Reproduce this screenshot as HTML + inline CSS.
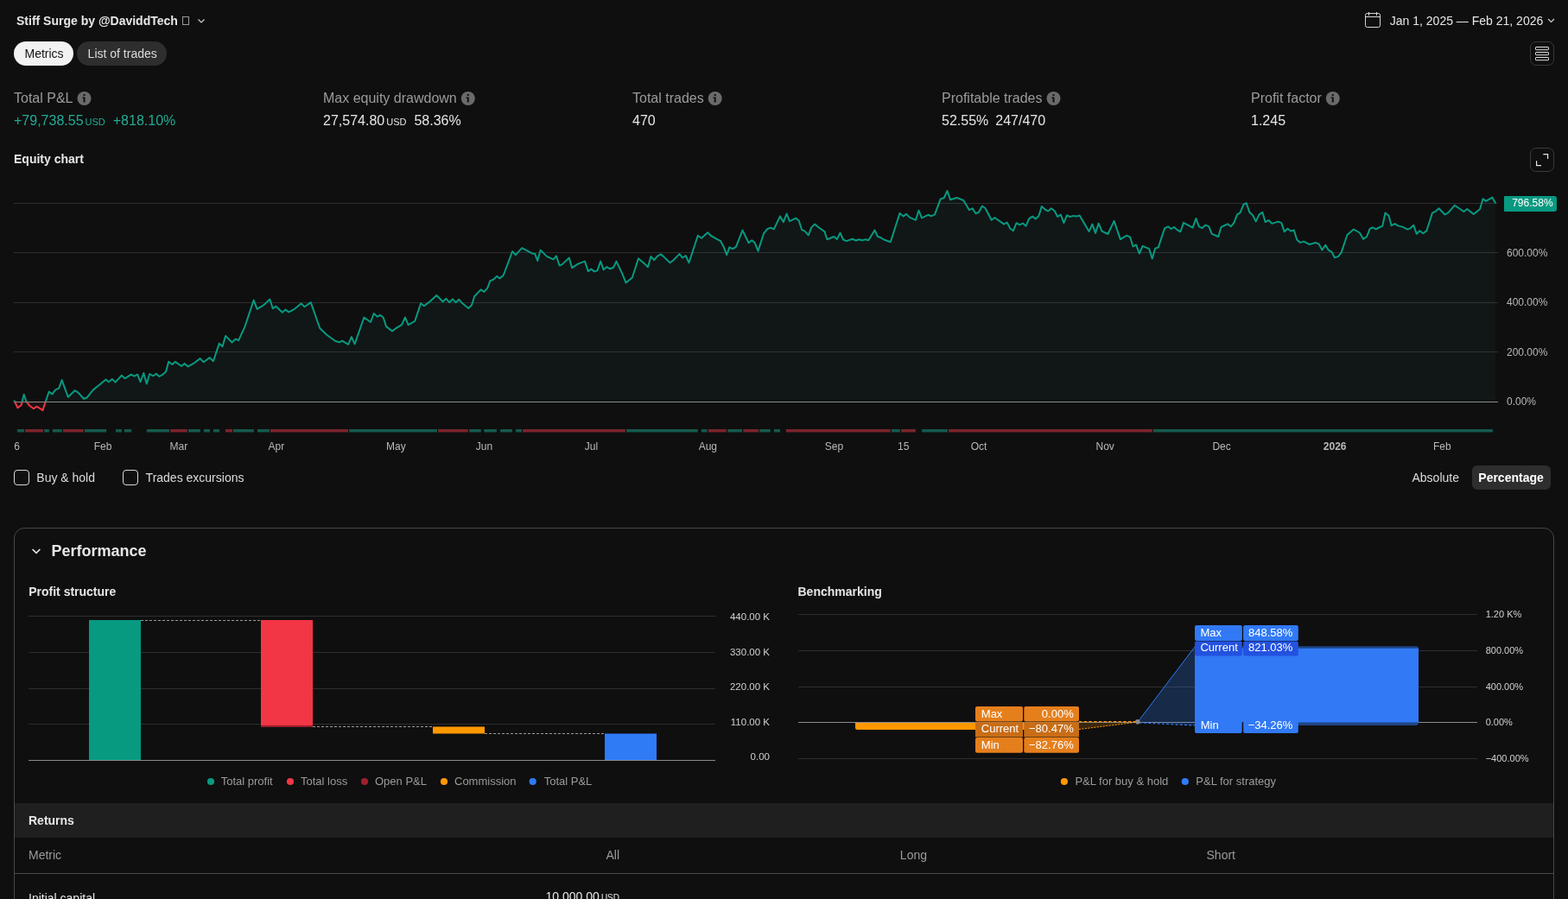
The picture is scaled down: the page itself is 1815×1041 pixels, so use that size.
<!DOCTYPE html>
<html><head><meta charset="utf-8"><title>Strategy report</title>
<style>
html,body{margin:0;padding:0;background:#0f0f0f;width:1815px;height:1041px;overflow:hidden;}
body{position:relative;font-family:'Liberation Sans', Arial, sans-serif;}
.t{position:absolute;white-space:nowrap;}
svg{position:absolute;left:0;top:0;}
</style></head><body>
<svg width="1815" height="1041" viewBox="0 0 1815 1041">
<path d="M229.5 22.5 L233 26 L236.5 22.5" fill="none" stroke="#cfcfcf" stroke-width="1.2"/>
<rect x="1580.5" y="15.5" width="17" height="16" rx="2" fill="none" stroke="#d6d6d6" stroke-width="1"/>
<line x1="1580.5" y1="19.5" x2="1597.5" y2="19.5" stroke="#d6d6d6" stroke-width="1"/>
<line x1="1584.5" y1="14" x2="1584.5" y2="18" stroke="#d6d6d6" stroke-width="1"/>
<line x1="1593.5" y1="14" x2="1593.5" y2="18" stroke="#d6d6d6" stroke-width="1"/>
<path d="M1792 22 L1795.5 25.5 L1799 22" fill="none" stroke="#cfcfcf" stroke-width="1.2"/>
<rect x="1777.5" y="54.5" width="15" height="3.2" rx="0.6" fill="none" stroke="#e0e0e0" stroke-width="1"/>
<rect x="1777.5" y="60.5" width="15" height="3.2" rx="0.6" fill="none" stroke="#e0e0e0" stroke-width="1"/>
<rect x="1777.5" y="66.5" width="15" height="3.2" rx="0.6" fill="none" stroke="#e0e0e0" stroke-width="1"/>
<circle cx="97.5" cy="114" r="8" fill="#6a6a6a"/>
<rect x="96.5" y="112.5" width="2" height="6" fill="#111"/>
<rect x="95.3" y="112.5" width="2" height="1.3" fill="#111"/>
<rect x="96.5" y="109" width="2" height="2" fill="#111"/>
<circle cx="541.8" cy="114" r="8" fill="#6a6a6a"/>
<rect x="540.8" y="112.5" width="2" height="6" fill="#111"/>
<rect x="539.5999999999999" y="112.5" width="2" height="1.3" fill="#111"/>
<rect x="540.8" y="109" width="2" height="2" fill="#111"/>
<circle cx="827.7" cy="114" r="8" fill="#6a6a6a"/>
<rect x="826.7" y="112.5" width="2" height="6" fill="#111"/>
<rect x="825.5" y="112.5" width="2" height="1.3" fill="#111"/>
<rect x="826.7" y="109" width="2" height="2" fill="#111"/>
<circle cx="1219.5" cy="114" r="8" fill="#6a6a6a"/>
<rect x="1218.5" y="112.5" width="2" height="6" fill="#111"/>
<rect x="1217.3" y="112.5" width="2" height="1.3" fill="#111"/>
<rect x="1218.5" y="109" width="2" height="2" fill="#111"/>
<circle cx="1542.8" cy="114" r="8" fill="#6a6a6a"/>
<rect x="1541.8" y="112.5" width="2" height="6" fill="#111"/>
<rect x="1540.6" y="112.5" width="2" height="1.3" fill="#111"/>
<rect x="1541.8" y="109" width="2" height="2" fill="#111"/>
<path d="M1786.3 178.6 H1791.6 V184" fill="none" stroke="#e6e6e6" stroke-width="1.2"/>
<path d="M1778.6 186.3 V191.6 H1784" fill="none" stroke="#e6e6e6" stroke-width="1.2"/>
<line x1="16" y1="235.5" x2="1734" y2="235.5" stroke="#2e2e2e" stroke-width="1"/>
<line x1="16" y1="292.5" x2="1734" y2="292.5" stroke="#2e2e2e" stroke-width="1"/>
<line x1="16" y1="350.5" x2="1734" y2="350.5" stroke="#2e2e2e" stroke-width="1"/>
<line x1="16" y1="407.5" x2="1734" y2="407.5" stroke="#2e2e2e" stroke-width="1"/>
<defs><clipPath id="above"><rect x="0" y="0" width="1815" height="465.5"/></clipPath><clipPath id="below"><rect x="0" y="465.5" width="1815" height="100"/></clipPath></defs>
<path d="M16.3 463.6 L20.5 472.2 L24.5 469.3 L27.7 456.8 L30.3 464.5 L34.1 469.8 L38.9 473.2 L42.3 470.8 L44.7 472.0 L49.5 475.1 L52.6 465.5 L56.7 453.5 L60.5 456.4 L63.9 451.6 L66.3 450.4 L68.2 449.6 L71.6 440.0 L74.9 449.2 L78.8 459.7 L86.5 452.2 L90.3 454.4 L97.0 461.7 L100.9 460.2 L107.6 451.6 L114.3 446.3 L122.5 439.4 L125.8 442.2 L129.8 438.9 L133.5 442.6 L140.8 434.8 L144.7 438.2 L151.9 433.7 L155.3 435.7 L159.2 433.7 L162.5 442.2 L166.3 432.0 L169.8 444.4 L173.2 433.0 L177.3 435.3 L180.8 432.7 L184.5 436.0 L188.4 433.7 L192.1 430.2 L195.2 418.8 L199.4 422.0 L202.8 418.9 L210.1 424.0 L213.6 420.9 L217.6 424.4 L224.9 420.3 L231.7 415.1 L235.6 419.2 L242.8 414.1 L246.9 418.2 L253.8 397.6 L257.5 401.3 L261.1 388.9 L268.5 396.5 L272.7 392.6 L276.1 394.1 L283.4 378.3 L293.7 347.6 L297.6 357.9 L305.4 353.1 L312.3 346.5 L315.8 357.2 L319.5 354.7 L326.8 361.8 L330.5 358.6 L334.4 361.4 L341.3 357.6 L348.6 351.4 L352.5 355.2 L359.8 350.1 L370.2 380.0 L378.3 387.8 L387.9 394.7 L392.7 396.3 L396.2 394.7 L403.1 398.8 L406.9 390.1 L410.6 398.4 L421.4 367.5 L429.0 373.0 L432.7 363.0 L436.8 366.7 L440.0 364.8 L443.7 367.8 L447.1 378.1 L454.0 383.4 L458.2 380.2 L465.0 376.1 L468.9 367.5 L472.6 376.1 L480.2 371.9 L487.1 351.3 L490.9 354.3 L496.7 349.9 L505.3 342.0 L512.6 349.2 L516.4 345.8 L520.1 350.2 L523.9 346.4 L527.7 350.2 L531.2 346.7 L535.3 351.3 L542.2 357.1 L546.0 353.3 L549.1 343.3 L556.6 335.4 L560.4 337.9 L564.2 333.6 L567.4 325.1 L571.1 323.7 L575.0 319.9 L578.7 322.3 L582.8 318.5 L593.1 291.1 L596.9 295.2 L604.2 287.2 L615.9 293.4 L619.1 293.7 L622.2 302.0 L625.7 289.6 L632.9 296.9 L640.5 300.3 L643.9 296.4 L647.6 307.5 L650.8 306.1 L658.8 298.5 L662.2 310.2 L669.4 305.4 L677.0 302.6 L680.8 314.1 L684.3 311.6 L688.0 314.4 L691.4 313.4 L695.2 302.6 L698.7 312.3 L702.5 309.1 L706.2 311.3 L710.0 309.8 L713.5 302.6 L720.4 317.1 L724.5 327.4 L731.8 321.5 L739.0 299.2 L746.1 305.4 L750.0 309.3 L753.4 296.9 L757.2 301.0 L760.7 296.9 L764.7 294.4 L768.2 297.1 L775.5 304.3 L779.2 301.5 L786.5 294.1 L790.0 298.5 L793.7 296.0 L797.5 304.3 L807.8 272.8 L812.0 275.8 L819.1 269.2 L823.0 273.0 L826.4 274.8 L830.2 277.2 L834.0 279.0 L837.5 285.4 L841.2 295.1 L844.3 286.4 L848.2 288.2 L851.9 285.8 L859.5 266.6 L866.6 281.3 L870.3 278.2 L873.8 281.3 L877.5 290.6 L884.1 270.3 L888.2 265.1 L892.0 263.7 L895.8 265.4 L903.0 250.4 L906.8 257.1 L910.6 247.5 L914.0 256.1 L921.3 252.7 L924.7 255.5 L928.2 266.2 L931.9 267.9 L935.8 272.3 L939.2 263.4 L943.1 259.6 L947.5 263.3 L954.4 268.1 L957.5 277.2 L965.4 274.0 L968.8 277.1 L972.5 269.6 L976.1 277.5 L979.8 279.1 L986.7 276.8 L990.9 278.5 L994.3 277.2 L997.7 278.2 L1001.9 277.2 L1005.3 278.2 L1012.5 266.5 L1015.9 273.8 L1019.8 275.4 L1023.2 277.5 L1030.8 280.2 L1041.5 246.9 L1045.7 250.4 L1049.0 247.9 L1052.8 251.6 L1060.0 254.8 L1063.4 243.7 L1067.0 252.3 L1074.2 248.8 L1078.3 250.2 L1082.0 248.3 L1088.7 230.4 L1092.8 229.0 L1096.5 221.0 L1100.1 231.3 L1107.5 229.0 L1111.2 230.4 L1115.3 232.0 L1121.8 243.1 L1125.7 241.4 L1129.4 247.2 L1133.0 245.8 L1136.7 238.7 L1140.5 241.0 L1147.7 254.8 L1151.4 252.0 L1162.2 259.6 L1165.6 257.5 L1169.5 264.7 L1172.9 267.2 L1176.6 258.2 L1180.3 260.3 L1183.9 258.6 L1187.6 261.7 L1191.1 253.4 L1195.0 250.6 L1198.7 253.4 L1202.4 250.0 L1205.8 238.9 L1209.7 242.6 L1213.1 244.4 L1216.8 241.3 L1220.7 244.2 L1224.1 250.9 L1227.9 248.6 L1231.4 258.2 L1234.9 249.3 L1238.6 251.0 L1242.7 249.9 L1246.2 250.6 L1249.6 249.5 L1260.6 267.9 L1264.4 259.6 L1268.0 269.9 L1271.7 258.6 L1275.4 267.6 L1282.4 271.0 L1289.6 255.9 L1296.9 277.1 L1304.3 272.7 L1308.2 274.7 L1311.6 285.5 L1315.1 283.4 L1318.9 293.6 L1322.6 284.8 L1330.2 288.2 L1333.7 299.5 L1337.1 287.8 L1340.8 286.4 L1348.1 264.4 L1352.1 262.3 L1355.5 265.1 L1359.0 263.0 L1363.1 266.5 L1366.5 268.3 L1370.0 257.9 L1380.6 263.7 L1384.4 253.0 L1387.9 262.3 L1391.6 264.1 L1395.5 260.6 L1399.2 262.1 L1402.8 270.9 L1410.2 274.0 L1413.6 262.8 L1417.5 261.0 L1421.2 259.3 L1424.8 262.3 L1428.2 258.2 L1432.0 248.6 L1435.7 246.1 L1439.3 236.9 L1442.7 235.1 L1446.4 245.8 L1450.1 249.3 L1453.7 256.4 L1457.4 248.6 L1461.3 245.8 L1464.7 257.1 L1468.5 255.0 L1472.3 258.9 L1479.5 256.6 L1483.3 258.2 L1486.8 268.3 L1490.5 264.7 L1493.9 267.6 L1497.8 266.5 L1501.2 277.5 L1505.0 280.9 L1509.1 279.6 L1516.0 283.0 L1522.9 280.9 L1526.7 282.6 L1530.4 289.5 L1534.2 283.7 L1537.7 289.6 L1541.5 291.7 L1544.9 298.2 L1549.0 297.1 L1552.5 292.6 L1559.4 272.0 L1566.9 265.5 L1573.8 269.5 L1578.0 276.8 L1582.1 274.0 L1585.5 265.1 L1588.7 263.3 L1592.7 265.4 L1597.2 263.0 L1600.2 261.9 L1603.5 246.5 L1607.5 249.8 L1610.6 261.2 L1614.5 259.1 L1618.3 261.4 L1624.0 262.9 L1629.1 265.6 L1632.2 264.6 L1636.3 260.8 L1639.8 270.9 L1643.4 267.2 L1647.3 270.3 L1651.4 267.1 L1657.9 246.7 L1662.0 244.6 L1665.5 241.3 L1672.5 248.5 L1676.3 246.3 L1683.9 237.7 L1694.4 245.0 L1698.3 242.0 L1705.7 248.0 L1713.0 242.2 L1716.5 230.3 L1720.1 232.9 L1727.3 228.6 L1731.2 235.5 L1731.2 465.5 L16.3 465.5 Z" fill="rgba(34,171,148,0.055)" clip-path="url(#above)"/>
<path d="M16.3 463.6 L20.5 472.2 L24.5 469.3 L27.7 456.8 L30.3 464.5 L34.1 469.8 L38.9 473.2 L42.3 470.8 L44.7 472.0 L49.5 475.1 L52.6 465.5 L56.7 453.5 L60.5 456.4 L63.9 451.6 L66.3 450.4 L68.2 449.6 L71.6 440.0 L74.9 449.2 L78.8 459.7 L86.5 452.2 L90.3 454.4 L97.0 461.7 L100.9 460.2 L107.6 451.6 L114.3 446.3 L122.5 439.4 L125.8 442.2 L129.8 438.9 L133.5 442.6 L140.8 434.8 L144.7 438.2 L151.9 433.7 L155.3 435.7 L159.2 433.7 L162.5 442.2 L166.3 432.0 L169.8 444.4 L173.2 433.0 L177.3 435.3 L180.8 432.7 L184.5 436.0 L188.4 433.7 L192.1 430.2 L195.2 418.8 L199.4 422.0 L202.8 418.9 L210.1 424.0 L213.6 420.9 L217.6 424.4 L224.9 420.3 L231.7 415.1 L235.6 419.2 L242.8 414.1 L246.9 418.2 L253.8 397.6 L257.5 401.3 L261.1 388.9 L268.5 396.5 L272.7 392.6 L276.1 394.1 L283.4 378.3 L293.7 347.6 L297.6 357.9 L305.4 353.1 L312.3 346.5 L315.8 357.2 L319.5 354.7 L326.8 361.8 L330.5 358.6 L334.4 361.4 L341.3 357.6 L348.6 351.4 L352.5 355.2 L359.8 350.1 L370.2 380.0 L378.3 387.8 L387.9 394.7 L392.7 396.3 L396.2 394.7 L403.1 398.8 L406.9 390.1 L410.6 398.4 L421.4 367.5 L429.0 373.0 L432.7 363.0 L436.8 366.7 L440.0 364.8 L443.7 367.8 L447.1 378.1 L454.0 383.4 L458.2 380.2 L465.0 376.1 L468.9 367.5 L472.6 376.1 L480.2 371.9 L487.1 351.3 L490.9 354.3 L496.7 349.9 L505.3 342.0 L512.6 349.2 L516.4 345.8 L520.1 350.2 L523.9 346.4 L527.7 350.2 L531.2 346.7 L535.3 351.3 L542.2 357.1 L546.0 353.3 L549.1 343.3 L556.6 335.4 L560.4 337.9 L564.2 333.6 L567.4 325.1 L571.1 323.7 L575.0 319.9 L578.7 322.3 L582.8 318.5 L593.1 291.1 L596.9 295.2 L604.2 287.2 L615.9 293.4 L619.1 293.7 L622.2 302.0 L625.7 289.6 L632.9 296.9 L640.5 300.3 L643.9 296.4 L647.6 307.5 L650.8 306.1 L658.8 298.5 L662.2 310.2 L669.4 305.4 L677.0 302.6 L680.8 314.1 L684.3 311.6 L688.0 314.4 L691.4 313.4 L695.2 302.6 L698.7 312.3 L702.5 309.1 L706.2 311.3 L710.0 309.8 L713.5 302.6 L720.4 317.1 L724.5 327.4 L731.8 321.5 L739.0 299.2 L746.1 305.4 L750.0 309.3 L753.4 296.9 L757.2 301.0 L760.7 296.9 L764.7 294.4 L768.2 297.1 L775.5 304.3 L779.2 301.5 L786.5 294.1 L790.0 298.5 L793.7 296.0 L797.5 304.3 L807.8 272.8 L812.0 275.8 L819.1 269.2 L823.0 273.0 L826.4 274.8 L830.2 277.2 L834.0 279.0 L837.5 285.4 L841.2 295.1 L844.3 286.4 L848.2 288.2 L851.9 285.8 L859.5 266.6 L866.6 281.3 L870.3 278.2 L873.8 281.3 L877.5 290.6 L884.1 270.3 L888.2 265.1 L892.0 263.7 L895.8 265.4 L903.0 250.4 L906.8 257.1 L910.6 247.5 L914.0 256.1 L921.3 252.7 L924.7 255.5 L928.2 266.2 L931.9 267.9 L935.8 272.3 L939.2 263.4 L943.1 259.6 L947.5 263.3 L954.4 268.1 L957.5 277.2 L965.4 274.0 L968.8 277.1 L972.5 269.6 L976.1 277.5 L979.8 279.1 L986.7 276.8 L990.9 278.5 L994.3 277.2 L997.7 278.2 L1001.9 277.2 L1005.3 278.2 L1012.5 266.5 L1015.9 273.8 L1019.8 275.4 L1023.2 277.5 L1030.8 280.2 L1041.5 246.9 L1045.7 250.4 L1049.0 247.9 L1052.8 251.6 L1060.0 254.8 L1063.4 243.7 L1067.0 252.3 L1074.2 248.8 L1078.3 250.2 L1082.0 248.3 L1088.7 230.4 L1092.8 229.0 L1096.5 221.0 L1100.1 231.3 L1107.5 229.0 L1111.2 230.4 L1115.3 232.0 L1121.8 243.1 L1125.7 241.4 L1129.4 247.2 L1133.0 245.8 L1136.7 238.7 L1140.5 241.0 L1147.7 254.8 L1151.4 252.0 L1162.2 259.6 L1165.6 257.5 L1169.5 264.7 L1172.9 267.2 L1176.6 258.2 L1180.3 260.3 L1183.9 258.6 L1187.6 261.7 L1191.1 253.4 L1195.0 250.6 L1198.7 253.4 L1202.4 250.0 L1205.8 238.9 L1209.7 242.6 L1213.1 244.4 L1216.8 241.3 L1220.7 244.2 L1224.1 250.9 L1227.9 248.6 L1231.4 258.2 L1234.9 249.3 L1238.6 251.0 L1242.7 249.9 L1246.2 250.6 L1249.6 249.5 L1260.6 267.9 L1264.4 259.6 L1268.0 269.9 L1271.7 258.6 L1275.4 267.6 L1282.4 271.0 L1289.6 255.9 L1296.9 277.1 L1304.3 272.7 L1308.2 274.7 L1311.6 285.5 L1315.1 283.4 L1318.9 293.6 L1322.6 284.8 L1330.2 288.2 L1333.7 299.5 L1337.1 287.8 L1340.8 286.4 L1348.1 264.4 L1352.1 262.3 L1355.5 265.1 L1359.0 263.0 L1363.1 266.5 L1366.5 268.3 L1370.0 257.9 L1380.6 263.7 L1384.4 253.0 L1387.9 262.3 L1391.6 264.1 L1395.5 260.6 L1399.2 262.1 L1402.8 270.9 L1410.2 274.0 L1413.6 262.8 L1417.5 261.0 L1421.2 259.3 L1424.8 262.3 L1428.2 258.2 L1432.0 248.6 L1435.7 246.1 L1439.3 236.9 L1442.7 235.1 L1446.4 245.8 L1450.1 249.3 L1453.7 256.4 L1457.4 248.6 L1461.3 245.8 L1464.7 257.1 L1468.5 255.0 L1472.3 258.9 L1479.5 256.6 L1483.3 258.2 L1486.8 268.3 L1490.5 264.7 L1493.9 267.6 L1497.8 266.5 L1501.2 277.5 L1505.0 280.9 L1509.1 279.6 L1516.0 283.0 L1522.9 280.9 L1526.7 282.6 L1530.4 289.5 L1534.2 283.7 L1537.7 289.6 L1541.5 291.7 L1544.9 298.2 L1549.0 297.1 L1552.5 292.6 L1559.4 272.0 L1566.9 265.5 L1573.8 269.5 L1578.0 276.8 L1582.1 274.0 L1585.5 265.1 L1588.7 263.3 L1592.7 265.4 L1597.2 263.0 L1600.2 261.9 L1603.5 246.5 L1607.5 249.8 L1610.6 261.2 L1614.5 259.1 L1618.3 261.4 L1624.0 262.9 L1629.1 265.6 L1632.2 264.6 L1636.3 260.8 L1639.8 270.9 L1643.4 267.2 L1647.3 270.3 L1651.4 267.1 L1657.9 246.7 L1662.0 244.6 L1665.5 241.3 L1672.5 248.5 L1676.3 246.3 L1683.9 237.7 L1694.4 245.0 L1698.3 242.0 L1705.7 248.0 L1713.0 242.2 L1716.5 230.3 L1720.1 232.9 L1727.3 228.6 L1731.2 235.5 L1731.2 465.5 L16.3 465.5 Z" fill="rgba(242,54,69,0.08)" clip-path="url(#below)"/>
<line x1="16" y1="465.5" x2="1734" y2="465.5" stroke="#8c8c8c" stroke-width="1"/>
<path d="M16.3 463.6 L20.5 472.2 L24.5 469.3 L27.7 456.8 L30.3 464.5 L34.1 469.8 L38.9 473.2 L42.3 470.8 L44.7 472.0 L49.5 475.1 L52.6 465.5 L56.7 453.5 L60.5 456.4 L63.9 451.6 L66.3 450.4 L68.2 449.6 L71.6 440.0 L74.9 449.2 L78.8 459.7 L86.5 452.2 L90.3 454.4 L97.0 461.7 L100.9 460.2 L107.6 451.6 L114.3 446.3 L122.5 439.4 L125.8 442.2 L129.8 438.9 L133.5 442.6 L140.8 434.8 L144.7 438.2 L151.9 433.7 L155.3 435.7 L159.2 433.7 L162.5 442.2 L166.3 432.0 L169.8 444.4 L173.2 433.0 L177.3 435.3 L180.8 432.7 L184.5 436.0 L188.4 433.7 L192.1 430.2 L195.2 418.8 L199.4 422.0 L202.8 418.9 L210.1 424.0 L213.6 420.9 L217.6 424.4 L224.9 420.3 L231.7 415.1 L235.6 419.2 L242.8 414.1 L246.9 418.2 L253.8 397.6 L257.5 401.3 L261.1 388.9 L268.5 396.5 L272.7 392.6 L276.1 394.1 L283.4 378.3 L293.7 347.6 L297.6 357.9 L305.4 353.1 L312.3 346.5 L315.8 357.2 L319.5 354.7 L326.8 361.8 L330.5 358.6 L334.4 361.4 L341.3 357.6 L348.6 351.4 L352.5 355.2 L359.8 350.1 L370.2 380.0 L378.3 387.8 L387.9 394.7 L392.7 396.3 L396.2 394.7 L403.1 398.8 L406.9 390.1 L410.6 398.4 L421.4 367.5 L429.0 373.0 L432.7 363.0 L436.8 366.7 L440.0 364.8 L443.7 367.8 L447.1 378.1 L454.0 383.4 L458.2 380.2 L465.0 376.1 L468.9 367.5 L472.6 376.1 L480.2 371.9 L487.1 351.3 L490.9 354.3 L496.7 349.9 L505.3 342.0 L512.6 349.2 L516.4 345.8 L520.1 350.2 L523.9 346.4 L527.7 350.2 L531.2 346.7 L535.3 351.3 L542.2 357.1 L546.0 353.3 L549.1 343.3 L556.6 335.4 L560.4 337.9 L564.2 333.6 L567.4 325.1 L571.1 323.7 L575.0 319.9 L578.7 322.3 L582.8 318.5 L593.1 291.1 L596.9 295.2 L604.2 287.2 L615.9 293.4 L619.1 293.7 L622.2 302.0 L625.7 289.6 L632.9 296.9 L640.5 300.3 L643.9 296.4 L647.6 307.5 L650.8 306.1 L658.8 298.5 L662.2 310.2 L669.4 305.4 L677.0 302.6 L680.8 314.1 L684.3 311.6 L688.0 314.4 L691.4 313.4 L695.2 302.6 L698.7 312.3 L702.5 309.1 L706.2 311.3 L710.0 309.8 L713.5 302.6 L720.4 317.1 L724.5 327.4 L731.8 321.5 L739.0 299.2 L746.1 305.4 L750.0 309.3 L753.4 296.9 L757.2 301.0 L760.7 296.9 L764.7 294.4 L768.2 297.1 L775.5 304.3 L779.2 301.5 L786.5 294.1 L790.0 298.5 L793.7 296.0 L797.5 304.3 L807.8 272.8 L812.0 275.8 L819.1 269.2 L823.0 273.0 L826.4 274.8 L830.2 277.2 L834.0 279.0 L837.5 285.4 L841.2 295.1 L844.3 286.4 L848.2 288.2 L851.9 285.8 L859.5 266.6 L866.6 281.3 L870.3 278.2 L873.8 281.3 L877.5 290.6 L884.1 270.3 L888.2 265.1 L892.0 263.7 L895.8 265.4 L903.0 250.4 L906.8 257.1 L910.6 247.5 L914.0 256.1 L921.3 252.7 L924.7 255.5 L928.2 266.2 L931.9 267.9 L935.8 272.3 L939.2 263.4 L943.1 259.6 L947.5 263.3 L954.4 268.1 L957.5 277.2 L965.4 274.0 L968.8 277.1 L972.5 269.6 L976.1 277.5 L979.8 279.1 L986.7 276.8 L990.9 278.5 L994.3 277.2 L997.7 278.2 L1001.9 277.2 L1005.3 278.2 L1012.5 266.5 L1015.9 273.8 L1019.8 275.4 L1023.2 277.5 L1030.8 280.2 L1041.5 246.9 L1045.7 250.4 L1049.0 247.9 L1052.8 251.6 L1060.0 254.8 L1063.4 243.7 L1067.0 252.3 L1074.2 248.8 L1078.3 250.2 L1082.0 248.3 L1088.7 230.4 L1092.8 229.0 L1096.5 221.0 L1100.1 231.3 L1107.5 229.0 L1111.2 230.4 L1115.3 232.0 L1121.8 243.1 L1125.7 241.4 L1129.4 247.2 L1133.0 245.8 L1136.7 238.7 L1140.5 241.0 L1147.7 254.8 L1151.4 252.0 L1162.2 259.6 L1165.6 257.5 L1169.5 264.7 L1172.9 267.2 L1176.6 258.2 L1180.3 260.3 L1183.9 258.6 L1187.6 261.7 L1191.1 253.4 L1195.0 250.6 L1198.7 253.4 L1202.4 250.0 L1205.8 238.9 L1209.7 242.6 L1213.1 244.4 L1216.8 241.3 L1220.7 244.2 L1224.1 250.9 L1227.9 248.6 L1231.4 258.2 L1234.9 249.3 L1238.6 251.0 L1242.7 249.9 L1246.2 250.6 L1249.6 249.5 L1260.6 267.9 L1264.4 259.6 L1268.0 269.9 L1271.7 258.6 L1275.4 267.6 L1282.4 271.0 L1289.6 255.9 L1296.9 277.1 L1304.3 272.7 L1308.2 274.7 L1311.6 285.5 L1315.1 283.4 L1318.9 293.6 L1322.6 284.8 L1330.2 288.2 L1333.7 299.5 L1337.1 287.8 L1340.8 286.4 L1348.1 264.4 L1352.1 262.3 L1355.5 265.1 L1359.0 263.0 L1363.1 266.5 L1366.5 268.3 L1370.0 257.9 L1380.6 263.7 L1384.4 253.0 L1387.9 262.3 L1391.6 264.1 L1395.5 260.6 L1399.2 262.1 L1402.8 270.9 L1410.2 274.0 L1413.6 262.8 L1417.5 261.0 L1421.2 259.3 L1424.8 262.3 L1428.2 258.2 L1432.0 248.6 L1435.7 246.1 L1439.3 236.9 L1442.7 235.1 L1446.4 245.8 L1450.1 249.3 L1453.7 256.4 L1457.4 248.6 L1461.3 245.8 L1464.7 257.1 L1468.5 255.0 L1472.3 258.9 L1479.5 256.6 L1483.3 258.2 L1486.8 268.3 L1490.5 264.7 L1493.9 267.6 L1497.8 266.5 L1501.2 277.5 L1505.0 280.9 L1509.1 279.6 L1516.0 283.0 L1522.9 280.9 L1526.7 282.6 L1530.4 289.5 L1534.2 283.7 L1537.7 289.6 L1541.5 291.7 L1544.9 298.2 L1549.0 297.1 L1552.5 292.6 L1559.4 272.0 L1566.9 265.5 L1573.8 269.5 L1578.0 276.8 L1582.1 274.0 L1585.5 265.1 L1588.7 263.3 L1592.7 265.4 L1597.2 263.0 L1600.2 261.9 L1603.5 246.5 L1607.5 249.8 L1610.6 261.2 L1614.5 259.1 L1618.3 261.4 L1624.0 262.9 L1629.1 265.6 L1632.2 264.6 L1636.3 260.8 L1639.8 270.9 L1643.4 267.2 L1647.3 270.3 L1651.4 267.1 L1657.9 246.7 L1662.0 244.6 L1665.5 241.3 L1672.5 248.5 L1676.3 246.3 L1683.9 237.7 L1694.4 245.0 L1698.3 242.0 L1705.7 248.0 L1713.0 242.2 L1716.5 230.3 L1720.1 232.9 L1727.3 228.6 L1731.2 235.5" fill="none" stroke="#089981" stroke-width="2" stroke-linejoin="round" clip-path="url(#above)"/>
<path d="M16.3 463.6 L20.5 472.2 L24.5 469.3 L27.7 456.8 L30.3 464.5 L34.1 469.8 L38.9 473.2 L42.3 470.8 L44.7 472.0 L49.5 475.1 L52.6 465.5 L56.7 453.5 L60.5 456.4 L63.9 451.6 L66.3 450.4 L68.2 449.6 L71.6 440.0 L74.9 449.2 L78.8 459.7 L86.5 452.2 L90.3 454.4 L97.0 461.7 L100.9 460.2 L107.6 451.6 L114.3 446.3 L122.5 439.4 L125.8 442.2 L129.8 438.9 L133.5 442.6 L140.8 434.8 L144.7 438.2 L151.9 433.7 L155.3 435.7 L159.2 433.7 L162.5 442.2 L166.3 432.0 L169.8 444.4 L173.2 433.0 L177.3 435.3 L180.8 432.7 L184.5 436.0 L188.4 433.7 L192.1 430.2 L195.2 418.8 L199.4 422.0 L202.8 418.9 L210.1 424.0 L213.6 420.9 L217.6 424.4 L224.9 420.3 L231.7 415.1 L235.6 419.2 L242.8 414.1 L246.9 418.2 L253.8 397.6 L257.5 401.3 L261.1 388.9 L268.5 396.5 L272.7 392.6 L276.1 394.1 L283.4 378.3 L293.7 347.6 L297.6 357.9 L305.4 353.1 L312.3 346.5 L315.8 357.2 L319.5 354.7 L326.8 361.8 L330.5 358.6 L334.4 361.4 L341.3 357.6 L348.6 351.4 L352.5 355.2 L359.8 350.1 L370.2 380.0 L378.3 387.8 L387.9 394.7 L392.7 396.3 L396.2 394.7 L403.1 398.8 L406.9 390.1 L410.6 398.4 L421.4 367.5 L429.0 373.0 L432.7 363.0 L436.8 366.7 L440.0 364.8 L443.7 367.8 L447.1 378.1 L454.0 383.4 L458.2 380.2 L465.0 376.1 L468.9 367.5 L472.6 376.1 L480.2 371.9 L487.1 351.3 L490.9 354.3 L496.7 349.9 L505.3 342.0 L512.6 349.2 L516.4 345.8 L520.1 350.2 L523.9 346.4 L527.7 350.2 L531.2 346.7 L535.3 351.3 L542.2 357.1 L546.0 353.3 L549.1 343.3 L556.6 335.4 L560.4 337.9 L564.2 333.6 L567.4 325.1 L571.1 323.7 L575.0 319.9 L578.7 322.3 L582.8 318.5 L593.1 291.1 L596.9 295.2 L604.2 287.2 L615.9 293.4 L619.1 293.7 L622.2 302.0 L625.7 289.6 L632.9 296.9 L640.5 300.3 L643.9 296.4 L647.6 307.5 L650.8 306.1 L658.8 298.5 L662.2 310.2 L669.4 305.4 L677.0 302.6 L680.8 314.1 L684.3 311.6 L688.0 314.4 L691.4 313.4 L695.2 302.6 L698.7 312.3 L702.5 309.1 L706.2 311.3 L710.0 309.8 L713.5 302.6 L720.4 317.1 L724.5 327.4 L731.8 321.5 L739.0 299.2 L746.1 305.4 L750.0 309.3 L753.4 296.9 L757.2 301.0 L760.7 296.9 L764.7 294.4 L768.2 297.1 L775.5 304.3 L779.2 301.5 L786.5 294.1 L790.0 298.5 L793.7 296.0 L797.5 304.3 L807.8 272.8 L812.0 275.8 L819.1 269.2 L823.0 273.0 L826.4 274.8 L830.2 277.2 L834.0 279.0 L837.5 285.4 L841.2 295.1 L844.3 286.4 L848.2 288.2 L851.9 285.8 L859.5 266.6 L866.6 281.3 L870.3 278.2 L873.8 281.3 L877.5 290.6 L884.1 270.3 L888.2 265.1 L892.0 263.7 L895.8 265.4 L903.0 250.4 L906.8 257.1 L910.6 247.5 L914.0 256.1 L921.3 252.7 L924.7 255.5 L928.2 266.2 L931.9 267.9 L935.8 272.3 L939.2 263.4 L943.1 259.6 L947.5 263.3 L954.4 268.1 L957.5 277.2 L965.4 274.0 L968.8 277.1 L972.5 269.6 L976.1 277.5 L979.8 279.1 L986.7 276.8 L990.9 278.5 L994.3 277.2 L997.7 278.2 L1001.9 277.2 L1005.3 278.2 L1012.5 266.5 L1015.9 273.8 L1019.8 275.4 L1023.2 277.5 L1030.8 280.2 L1041.5 246.9 L1045.7 250.4 L1049.0 247.9 L1052.8 251.6 L1060.0 254.8 L1063.4 243.7 L1067.0 252.3 L1074.2 248.8 L1078.3 250.2 L1082.0 248.3 L1088.7 230.4 L1092.8 229.0 L1096.5 221.0 L1100.1 231.3 L1107.5 229.0 L1111.2 230.4 L1115.3 232.0 L1121.8 243.1 L1125.7 241.4 L1129.4 247.2 L1133.0 245.8 L1136.7 238.7 L1140.5 241.0 L1147.7 254.8 L1151.4 252.0 L1162.2 259.6 L1165.6 257.5 L1169.5 264.7 L1172.9 267.2 L1176.6 258.2 L1180.3 260.3 L1183.9 258.6 L1187.6 261.7 L1191.1 253.4 L1195.0 250.6 L1198.7 253.4 L1202.4 250.0 L1205.8 238.9 L1209.7 242.6 L1213.1 244.4 L1216.8 241.3 L1220.7 244.2 L1224.1 250.9 L1227.9 248.6 L1231.4 258.2 L1234.9 249.3 L1238.6 251.0 L1242.7 249.9 L1246.2 250.6 L1249.6 249.5 L1260.6 267.9 L1264.4 259.6 L1268.0 269.9 L1271.7 258.6 L1275.4 267.6 L1282.4 271.0 L1289.6 255.9 L1296.9 277.1 L1304.3 272.7 L1308.2 274.7 L1311.6 285.5 L1315.1 283.4 L1318.9 293.6 L1322.6 284.8 L1330.2 288.2 L1333.7 299.5 L1337.1 287.8 L1340.8 286.4 L1348.1 264.4 L1352.1 262.3 L1355.5 265.1 L1359.0 263.0 L1363.1 266.5 L1366.5 268.3 L1370.0 257.9 L1380.6 263.7 L1384.4 253.0 L1387.9 262.3 L1391.6 264.1 L1395.5 260.6 L1399.2 262.1 L1402.8 270.9 L1410.2 274.0 L1413.6 262.8 L1417.5 261.0 L1421.2 259.3 L1424.8 262.3 L1428.2 258.2 L1432.0 248.6 L1435.7 246.1 L1439.3 236.9 L1442.7 235.1 L1446.4 245.8 L1450.1 249.3 L1453.7 256.4 L1457.4 248.6 L1461.3 245.8 L1464.7 257.1 L1468.5 255.0 L1472.3 258.9 L1479.5 256.6 L1483.3 258.2 L1486.8 268.3 L1490.5 264.7 L1493.9 267.6 L1497.8 266.5 L1501.2 277.5 L1505.0 280.9 L1509.1 279.6 L1516.0 283.0 L1522.9 280.9 L1526.7 282.6 L1530.4 289.5 L1534.2 283.7 L1537.7 289.6 L1541.5 291.7 L1544.9 298.2 L1549.0 297.1 L1552.5 292.6 L1559.4 272.0 L1566.9 265.5 L1573.8 269.5 L1578.0 276.8 L1582.1 274.0 L1585.5 265.1 L1588.7 263.3 L1592.7 265.4 L1597.2 263.0 L1600.2 261.9 L1603.5 246.5 L1607.5 249.8 L1610.6 261.2 L1614.5 259.1 L1618.3 261.4 L1624.0 262.9 L1629.1 265.6 L1632.2 264.6 L1636.3 260.8 L1639.8 270.9 L1643.4 267.2 L1647.3 270.3 L1651.4 267.1 L1657.9 246.7 L1662.0 244.6 L1665.5 241.3 L1672.5 248.5 L1676.3 246.3 L1683.9 237.7 L1694.4 245.0 L1698.3 242.0 L1705.7 248.0 L1713.0 242.2 L1716.5 230.3 L1720.1 232.9 L1727.3 228.6 L1731.2 235.5" fill="none" stroke="#f23645" stroke-width="2" stroke-linejoin="round" clip-path="url(#below)"/>
<rect x="19.9" y="497" width="8.0" height="3.5" fill="#15594d"/>
<rect x="29.1" y="497" width="20.8" height="3.5" fill="#7a242b"/>
<rect x="51.2" y="497" width="5.7" height="3.5" fill="#15594d"/>
<rect x="60.8" y="497" width="10.9" height="3.5" fill="#15594d"/>
<rect x="73.0" y="497" width="23.8" height="3.5" fill="#7a242b"/>
<rect x="98.0" y="497" width="25.1" height="3.5" fill="#15594d"/>
<rect x="134.0" y="497" width="6.9" height="3.5" fill="#15594d"/>
<rect x="143.9" y="497" width="8.2" height="3.5" fill="#15594d"/>
<rect x="169.9" y="497" width="26.1" height="3.5" fill="#15594d"/>
<rect x="197.2" y="497" width="19.6" height="3.5" fill="#7a242b"/>
<rect x="218.0" y="497" width="13.9" height="3.5" fill="#15594d"/>
<rect x="235.9" y="497" width="7.2" height="3.5" fill="#15594d"/>
<rect x="247.0" y="497" width="7.0" height="3.5" fill="#15594d"/>
<rect x="260.9" y="497" width="8.2" height="3.5" fill="#7a242b"/>
<rect x="270.1" y="497" width="23.8" height="3.5" fill="#15594d"/>
<rect x="297.9" y="497" width="14.1" height="3.5" fill="#15594d"/>
<rect x="313.0" y="497" width="90.0" height="3.5" fill="#7a242b"/>
<rect x="404.2" y="497" width="101.8" height="3.5" fill="#15594d"/>
<rect x="507.2" y="497" width="34.5" height="3.5" fill="#7a242b"/>
<rect x="543.1" y="497" width="13.7" height="3.5" fill="#15594d"/>
<rect x="560.3" y="497" width="14.6" height="3.5" fill="#15594d"/>
<rect x="579.1" y="497" width="13.9" height="3.5" fill="#15594d"/>
<rect x="597.0" y="497" width="6.9" height="3.5" fill="#15594d"/>
<rect x="605.1" y="497" width="118.8" height="3.5" fill="#7a242b"/>
<rect x="725.1" y="497" width="82.6" height="3.5" fill="#15594d"/>
<rect x="811.9" y="497" width="6.7" height="3.5" fill="#15594d"/>
<rect x="819.9" y="497" width="21.0" height="3.5" fill="#7a242b"/>
<rect x="842.2" y="497" width="16.8" height="3.5" fill="#15594d"/>
<rect x="860.3" y="497" width="17.6" height="3.5" fill="#7a242b"/>
<rect x="878.9" y="497" width="12.9" height="3.5" fill="#15594d"/>
<rect x="896.0" y="497" width="7.0" height="3.5" fill="#15594d"/>
<rect x="909.9" y="497" width="120.8" height="3.5" fill="#7a242b"/>
<rect x="1031.9" y="497" width="9.9" height="3.5" fill="#15594d"/>
<rect x="1043.1" y="497" width="16.8" height="3.5" fill="#7a242b"/>
<rect x="1067.1" y="497" width="29.8" height="3.5" fill="#15594d"/>
<rect x="1098.1" y="497" width="235.9" height="3.5" fill="#7a242b"/>
<rect x="1335.0" y="497" width="393.0" height="3.5" fill="#15594d"/>
<path d="M37.6 636 L42 640.3 L46.4 636" fill="none" stroke="#e6e6e6" stroke-width="1.7"/>
<line x1="33" y1="713.5" x2="828" y2="713.5" stroke="#2e2e2e" stroke-width="1"/>
<line x1="33" y1="755.5" x2="828" y2="755.5" stroke="#2e2e2e" stroke-width="1"/>
<line x1="33" y1="797.5" x2="828" y2="797.5" stroke="#2e2e2e" stroke-width="1"/>
<line x1="33" y1="838.5" x2="828" y2="838.5" stroke="#2e2e2e" stroke-width="1"/>
<rect x="103" y="718" width="60" height="162" fill="#089981"/>
<rect x="302" y="718" width="60" height="123.5" fill="#f23645"/>
<rect x="302" y="839.9" width="60" height="2" fill="#9b1f2b"/>
<rect x="501" y="841.5" width="60" height="8" fill="#ff9800"/>
<rect x="700" y="849.5" width="60" height="30.5" fill="#2f7bf5"/>
<line x1="163" y1="718.5" x2="302" y2="718.5" stroke="#9a9a9a" stroke-width="1" stroke-dasharray="3 2"/>
<line x1="362" y1="841.5" x2="501" y2="841.5" stroke="#9a9a9a" stroke-width="1" stroke-dasharray="3 2"/>
<line x1="561" y1="849.5" x2="700" y2="849.5" stroke="#9a9a9a" stroke-width="1" stroke-dasharray="3 2"/>
<line x1="33" y1="880.5" x2="828" y2="880.5" stroke="#8c8c8c" stroke-width="1"/>
<circle cx="244" cy="905" r="4.1" fill="#089981"/>
<circle cx="336" cy="905" r="4.1" fill="#f23645"/>
<circle cx="422" cy="905" r="4.1" fill="#9e1f2c"/>
<circle cx="514" cy="905" r="4.1" fill="#ff9800"/>
<circle cx="616.7" cy="905" r="4.1" fill="#2f7bf5"/>
<line x1="924" y1="711.5" x2="1710" y2="711.5" stroke="#2e2e2e" stroke-width="1"/>
<line x1="924" y1="753.5" x2="1710" y2="753.5" stroke="#2e2e2e" stroke-width="1"/>
<line x1="924" y1="795.5" x2="1710" y2="795.5" stroke="#2e2e2e" stroke-width="1"/>
<line x1="924" y1="878.5" x2="1710" y2="878.5" stroke="#2e2e2e" stroke-width="1"/>
<line x1="924" y1="836.5" x2="1710" y2="836.5" stroke="#8c8c8c" stroke-width="1"/>
<path d="M1249 836.5 L1317 836 L1249 845 Z" fill="rgba(255,152,0,0.18)"/>
<line x1="1249" y1="835.5" x2="1314" y2="835.5" stroke="#ff9800" stroke-width="1.2" stroke-dasharray="3.5 2.2"/>
<line x1="1249" y1="844.5" x2="1316" y2="836.2" stroke="#ff9800" stroke-width="1" stroke-dasharray="2 1.5"/>
<path d="M990 837 H1249 V845 H992.5 Q990 845 990 842.5 Z" fill="#ff9800"/>
<path d="M1317 836 L1383 749 L1383 840 Z" fill="rgba(47,123,245,0.25)"/>
<line x1="1317" y1="836" x2="1383" y2="749" stroke="#2f7bf5" stroke-width="1"/>
<line x1="1319" y1="836.8" x2="1383" y2="840" stroke="#2f7bf5" stroke-width="1.2" stroke-dasharray="3 2.2"/>
<rect x="1383" y="748.3" width="259" height="91.7" rx="3" fill="#1f4586"/>
<rect x="1383" y="750.8" width="259" height="85.7" fill="#3179f5"/>
<circle cx="1316.8" cy="835.8" r="2.8" fill="#8a8a8a"/>
<rect x="1129" y="818" width="55.00" height="17.60" rx="2" fill="#e57f1c"/>
<rect x="1185.3" y="818" width="63.70" height="17.60" rx="2" fill="#e57f1c"/>
<rect x="1129" y="836.2" width="55.00" height="17.40" rx="0.5" fill="#c96d16"/>
<rect x="1185.3" y="836.2" width="63.70" height="17.40" rx="0.5" fill="#c96d16"/>
<rect x="1129" y="854" width="55.00" height="17.80" rx="2" fill="#e57f1c"/>
<rect x="1185.3" y="854" width="63.70" height="17.80" rx="2" fill="#e57f1c"/>
<rect x="1383" y="724.1" width="54.80" height="17.80" rx="2" fill="#3179f5"/>
<rect x="1439.1" y="724.1" width="63.70" height="17.80" rx="2" fill="#3179f5"/>
<rect x="1383" y="742.5" width="54.80" height="17.10" rx="2" fill="#2352e0"/>
<rect x="1439.1" y="742.5" width="63.70" height="17.10" rx="2" fill="#2352e0"/>
<rect x="1383" y="831" width="54.80" height="18.00" rx="2" fill="#3179f5"/>
<rect x="1439.1" y="831" width="63.70" height="18.00" rx="2" fill="#3179f5"/>
<rect x="1437.8" y="836" width="1.3" height="13" fill="#111"/>
<circle cx="1231.9" cy="905" r="4.1" fill="#ff9800"/>
<circle cx="1371.8" cy="905" r="4.1" fill="#2f7bf5"/>
</svg>
<div class="t" style="left:19px;top:17.3px;font-size:14px;line-height:14px;font-weight:700;color:#e6e6e6;">Stiff Surge by @DaviddTech</div>
<div style="position:absolute;left:211px;top:19px;width:8px;height:10px;border:1px solid #9a9a9a;box-sizing:border-box;"></div>
<div class="t" style="left:1608.8px;top:17.3px;font-size:14px;line-height:14px;font-weight:400;color:#e6e6e6;">Jan 1, 2025 — Feb 21, 2026</div>
<div style="position:absolute;left:16px;top:48px;width:69px;height:28px;background:#f2f2f2;border-radius:14px;"></div>
<div class="t" style="left:28.5px;top:55.0px;font-size:14px;line-height:14px;font-weight:400;color:#131313;">Metrics</div>
<div style="position:absolute;left:89px;top:48px;width:104px;height:28px;background:#2e2e2e;border-radius:14px;"></div>
<div class="t" style="left:101.6px;top:55.0px;font-size:14px;line-height:14px;font-weight:400;color:#dbdbdb;">List of trades</div>
<div style="position:absolute;left:1771px;top:48px;width:28px;height:28px;border:1px solid #3a3a3a;border-radius:7px;box-sizing:border-box;"></div>
<div class="t" style="left:16px;top:106.2px;font-size:16px;line-height:16px;font-weight:400;color:#9b9b9b;">Total P&amp;L</div>
<div class="t" style="left:374px;top:106.2px;font-size:16px;line-height:16px;font-weight:400;color:#9b9b9b;">Max equity drawdown</div>
<div class="t" style="left:732px;top:106.2px;font-size:16px;line-height:16px;font-weight:400;color:#9b9b9b;">Total trades</div>
<div class="t" style="left:1090px;top:106.2px;font-size:16px;line-height:16px;font-weight:400;color:#9b9b9b;">Profitable trades</div>
<div class="t" style="left:1448px;top:106.2px;font-size:16px;line-height:16px;font-weight:400;color:#9b9b9b;">Profit factor</div>
<div class="t" style="left:16px;top:132.2px;font-size:16px;line-height:16px;color:#22ab94">+79,738.55<span style="font-size:11px;margin-left:2px">USD</span><span style="margin-left:9px">+818.10%</span></div>
<div class="t" style="left:374px;top:132.2px;font-size:16px;line-height:16px;color:#e6e6e6">27,574.80<span style="font-size:11px;margin-left:2px">USD</span><span style="margin-left:9px">58.36%</span></div>
<div class="t" style="left:732px;top:132.2px;font-size:16px;line-height:16px;font-weight:400;color:#e6e6e6;">470</div>
<div class="t" style="left:1090px;top:132.2px;font-size:16px;line-height:16px;color:#e6e6e6">52.55%<span style="margin-left:8px">247/470</span></div>
<div class="t" style="left:1448px;top:132.2px;font-size:16px;line-height:16px;font-weight:400;color:#e6e6e6;">1.245</div>
<div class="t" style="left:16px;top:176.6px;font-size:14px;line-height:14px;font-weight:700;color:#e6e6e6;">Equity chart</div>
<div style="position:absolute;left:1771px;top:171px;width:28px;height:28px;border:1px solid #3a3a3a;border-radius:7px;box-sizing:border-box;"></div>
<div class="t" style="left:1744px;top:286.6px;font-size:12px;line-height:12px;font-weight:400;color:#b8b8b8;">600.00%</div>
<div class="t" style="left:1744px;top:343.6px;font-size:12px;line-height:12px;font-weight:400;color:#b8b8b8;">400.00%</div>
<div class="t" style="left:1744px;top:401.6px;font-size:12px;line-height:12px;font-weight:400;color:#b8b8b8;">200.00%</div>
<div class="t" style="left:1744px;top:458.6px;font-size:12px;line-height:12px;font-weight:400;color:#b8b8b8;">0.00%</div>
<div style="position:absolute;left:1741px;top:227px;width:61px;height:17.5px;background:#089981;border-radius:1px 3px 3px 1px;"></div>
<div class="t" style="left:1750.2px;top:229.0px;font-size:12px;line-height:12px;font-weight:400;color:#ffffff;">796.58%</div>
<div class="t" style="left:16.2px;top:510.8px;font-size:12px;line-height:12px;font-weight:400;color:#b8b8b8;">6</div>
<div class="t" style="left:108.7px;top:510.8px;font-size:12px;line-height:12px;font-weight:400;color:#b8b8b8;">Feb</div>
<div class="t" style="left:196.5px;top:510.8px;font-size:12px;line-height:12px;font-weight:400;color:#b8b8b8;">Mar</div>
<div class="t" style="left:310.5px;top:510.8px;font-size:12px;line-height:12px;font-weight:400;color:#b8b8b8;">Apr</div>
<div class="t" style="left:447px;top:510.8px;font-size:12px;line-height:12px;font-weight:400;color:#b8b8b8;">May</div>
<div class="t" style="left:550.8px;top:510.8px;font-size:12px;line-height:12px;font-weight:400;color:#b8b8b8;">Jun</div>
<div class="t" style="left:676.8px;top:510.8px;font-size:12px;line-height:12px;font-weight:400;color:#b8b8b8;">Jul</div>
<div class="t" style="left:808.7px;top:510.8px;font-size:12px;line-height:12px;font-weight:400;color:#b8b8b8;">Aug</div>
<div class="t" style="left:954.8px;top:510.8px;font-size:12px;line-height:12px;font-weight:400;color:#b8b8b8;">Sep</div>
<div class="t" style="left:1039.1px;top:510.8px;font-size:12px;line-height:12px;font-weight:400;color:#b8b8b8;">15</div>
<div class="t" style="left:1123.7px;top:510.8px;font-size:12px;line-height:12px;font-weight:400;color:#b8b8b8;">Oct</div>
<div class="t" style="left:1268.5px;top:510.8px;font-size:12px;line-height:12px;font-weight:400;color:#b8b8b8;">Nov</div>
<div class="t" style="left:1403.4px;top:510.8px;font-size:12px;line-height:12px;font-weight:400;color:#b8b8b8;">Dec</div>
<div class="t" style="left:1659px;top:510.8px;font-size:12px;line-height:12px;font-weight:400;color:#b8b8b8;">Feb</div>
<div class="t" style="left:1531.8px;top:510.8px;font-size:12px;line-height:12px;font-weight:700;color:#b8b8b8;">2026</div>
<div style="position:absolute;left:16px;top:544px;width:18px;height:18px;border:1.5px solid #dadada;border-radius:4px;box-sizing:border-box;"></div>
<div class="t" style="left:42.3px;top:546.1px;font-size:14px;line-height:14px;font-weight:400;color:#dbdbdb;">Buy &amp; hold</div>
<div style="position:absolute;left:142px;top:544px;width:18px;height:18px;border:1.5px solid #dadada;border-radius:4px;box-sizing:border-box;"></div>
<div class="t" style="left:168.6px;top:546.1px;font-size:14px;line-height:14px;font-weight:400;color:#dbdbdb;">Trades excursions</div>
<div class="t" style="left:1634.5px;top:546.1px;font-size:14px;line-height:14px;font-weight:400;color:#dbdbdb;">Absolute</div>
<div style="position:absolute;left:1704px;top:539px;width:91px;height:28px;background:#2e2e2e;border-radius:6px;"></div>
<div class="t" style="left:1711.3px;top:546.1px;font-size:14px;line-height:14px;font-weight:700;color:#ffffff;">Percentage</div>
<div style="position:absolute;left:16px;top:611px;width:1783px;height:500px;border:1px solid #474747;border-radius:12px;box-sizing:border-box;"></div>
<div class="t" style="left:59.5px;top:629.1px;font-size:18px;line-height:18px;font-weight:700;color:#e6e6e6;">Performance</div>
<div class="t" style="left:33.2px;top:678.4px;font-size:14px;line-height:14px;font-weight:700;color:#e6e6e6;">Profit structure</div>
<div class="t" style="right:924px;top:708.9px;font-size:11.5px;line-height:11.5px;font-weight:400;color:#d0d0d0;">440.00 K</div>
<div class="t" style="right:924px;top:750.3px;font-size:11.5px;line-height:11.5px;font-weight:400;color:#d0d0d0;">330.00 K</div>
<div class="t" style="right:924px;top:790.4px;font-size:11.5px;line-height:11.5px;font-weight:400;color:#d0d0d0;">220.00 K</div>
<div class="t" style="right:924px;top:831.2px;font-size:11.5px;line-height:11.5px;font-weight:400;color:#d0d0d0;">110.00 K</div>
<div class="t" style="right:924px;top:870.8px;font-size:11.5px;line-height:11.5px;font-weight:400;color:#d0d0d0;">0.00</div>
<div class="t" style="left:255.7px;top:898.3px;font-size:13px;line-height:13px;font-weight:400;color:#9b9b9b;">Total profit</div>
<div class="t" style="left:348px;top:898.3px;font-size:13px;line-height:13px;font-weight:400;color:#9b9b9b;">Total loss</div>
<div class="t" style="left:434px;top:898.3px;font-size:13px;line-height:13px;font-weight:400;color:#9b9b9b;">Open P&amp;L</div>
<div class="t" style="left:526px;top:898.3px;font-size:13px;line-height:13px;font-weight:400;color:#9b9b9b;">Commission</div>
<div class="t" style="left:629.7px;top:898.3px;font-size:13px;line-height:13px;font-weight:400;color:#9b9b9b;">Total P&amp;L</div>
<div class="t" style="left:923.5px;top:678.4px;font-size:14px;line-height:14px;font-weight:700;color:#e6e6e6;">Benchmarking</div>
<div class="t" style="left:1719.7px;top:705.7px;font-size:11px;line-height:11px;font-weight:400;color:#d0d0d0;">1.20 K%</div>
<div class="t" style="left:1719.7px;top:747.7px;font-size:11px;line-height:11px;font-weight:400;color:#d0d0d0;">800.00%</div>
<div class="t" style="left:1719.7px;top:789.7px;font-size:11px;line-height:11px;font-weight:400;color:#d0d0d0;">400.00%</div>
<div class="t" style="left:1719.7px;top:830.7px;font-size:11px;line-height:11px;font-weight:400;color:#d0d0d0;">0.00%</div>
<div class="t" style="left:1719.7px;top:872.7px;font-size:11px;line-height:11px;font-weight:400;color:#d0d0d0;">−400.00%</div>
<div class="t" style="left:1135.8px;top:819.6px;font-size:13px;line-height:13px;font-weight:400;color:#ffffff;">Max</div>
<div class="t" style="right:572.3px;top:819.6px;font-size:13px;line-height:13px;font-weight:400;color:#ffffff;">0.00%</div>
<div class="t" style="left:1135.8px;top:837.0px;font-size:13px;line-height:13px;font-weight:400;color:#ffffff;">Current</div>
<div class="t" style="right:572.3px;top:837.0px;font-size:13px;line-height:13px;font-weight:400;color:#ffffff;">−80.47%</div>
<div class="t" style="left:1135.8px;top:855.9px;font-size:13px;line-height:13px;font-weight:400;color:#ffffff;">Min</div>
<div class="t" style="right:572.3px;top:855.9px;font-size:13px;line-height:13px;font-weight:400;color:#ffffff;">−82.76%</div>
<div class="t" style="left:1389.4px;top:725.9px;font-size:13px;line-height:13px;font-weight:400;color:#ffffff;">Max</div>
<div class="t" style="right:318.70000000000005px;top:725.9px;font-size:13px;line-height:13px;font-weight:400;color:#ffffff;">848.58%</div>
<div class="t" style="left:1389.4px;top:742.8px;font-size:13px;line-height:13px;font-weight:400;color:#ffffff;">Current</div>
<div class="t" style="right:318.70000000000005px;top:742.8px;font-size:13px;line-height:13px;font-weight:400;color:#ffffff;">821.03%</div>
<div class="t" style="left:1389.7px;top:833.0px;font-size:13px;line-height:13px;font-weight:400;color:#ffffff;">Min</div>
<div class="t" style="right:318.70000000000005px;top:833.0px;font-size:13px;line-height:13px;font-weight:400;color:#ffffff;">−34.26%</div>
<div class="t" style="left:1244.4px;top:898.3px;font-size:13px;line-height:13px;font-weight:400;color:#9b9b9b;">P&amp;L for buy &amp; hold</div>
<div class="t" style="left:1384.3px;top:898.3px;font-size:13px;line-height:13px;font-weight:400;color:#9b9b9b;">P&amp;L for strategy</div>
<div style="position:absolute;left:17px;top:930px;width:1781px;height:40px;background:#1f1f1f;"></div>
<div class="t" style="left:33px;top:943.1px;font-size:14px;line-height:14px;font-weight:700;color:#e6e6e6;">Returns</div>
<div class="t" style="left:33px;top:983.1px;font-size:14px;line-height:14px;font-weight:400;color:#9b9b9b;">Metric</div>
<div class="t" style="right:1098px;top:983.1px;font-size:14px;line-height:14px;font-weight:400;color:#9b9b9b;">All</div>
<div class="t" style="right:742px;top:983.1px;font-size:14px;line-height:14px;font-weight:400;color:#9b9b9b;">Long</div>
<div class="t" style="right:385px;top:983.1px;font-size:14px;line-height:14px;font-weight:400;color:#9b9b9b;">Short</div>
<div style="position:absolute;left:17px;top:1011px;width:1781px;height:1px;background:#4a4a4a;"></div>
<div class="t" style="left:33px;top:1033.0px;font-size:14px;line-height:14px;font-weight:400;color:#e6e6e6;">Initial capital</div>
<div class="t" style="right:1098px;top:1031.4px;font-size:14px;line-height:14px;color:#e6e6e6">10,000.00<span style="font-size:10px;margin-left:2px">USD</span></div>
</body></html>
